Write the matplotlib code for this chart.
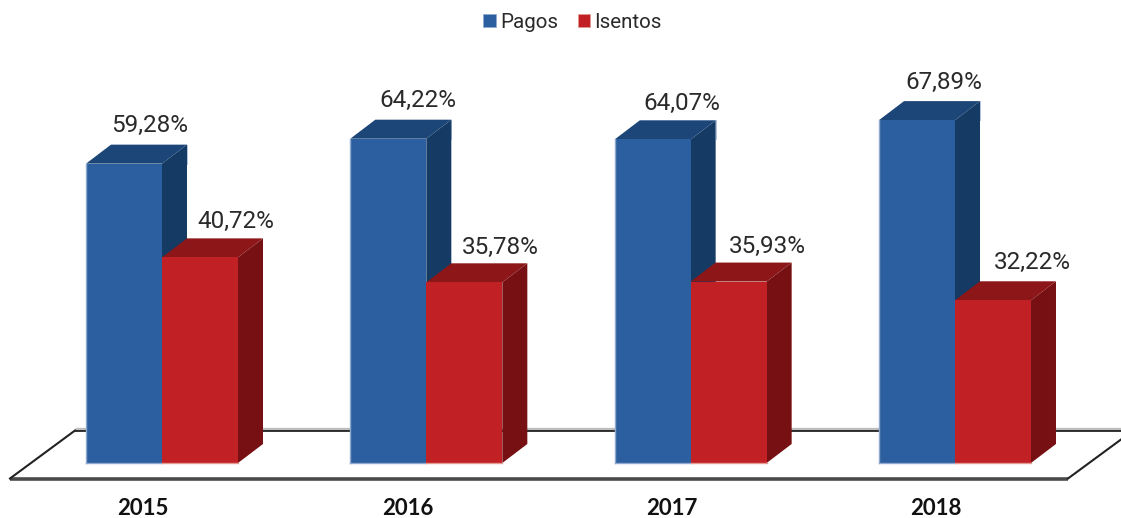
import matplotlib
matplotlib.use("Agg")
import matplotlib.pyplot as plt
from matplotlib.patches import Polygon, Patch

years = ["2015", "2016", "2017", "2018"]
pagos = [59.28, 64.22, 64.07, 67.89]
isentos = [40.72, 35.78, 35.93, 32.22]
series_names = ["Pagos", "Isentos"]

# label nudges in pixels (style only)
pagos_dx = [26, 30, 29, 27]
pagos_dy = [38, 38, 36, 38]
isentos_dx = [36, 36, 39, 39]
isentos_dy = [36, 35, 35, 38]

W, H = 1121, 518
PX_PER_GROUP = 264.33
PX_PER_PCT = 5.05
X0 = 162.0
BASE = 463.0
AX_BOTTOM = 481.0
BAR_W = 76 / PX_PER_GROUP
DX = 25 / PX_PER_GROUP
DY = 19 / PX_PER_PCT

BLUE = ("#2C5F9F", "#1C4678", "#153A63", "#8FA8CF")
RED = ("#C12025", "#8C1618", "#761012", "#E39A90")
FONT = ["Lato", "DejaVu Sans"]
THIN = ["Roboto", "DejaVu Sans"]

fig = plt.figure(figsize=(W / 100, H / 100), dpi=100)
ax = fig.add_axes([0, (H - AX_BOTTOM) / H, 1, AX_BOTTOM / H])
ax.set_xlim(-X0 / PX_PER_GROUP, (W - X0) / PX_PER_GROUP)
ax.set_ylim(-(AX_BOTTOM - BASE) / PX_PER_PCT, BASE / PX_PER_PCT)
for s in ax.spines.values():
    s.set_visible(False)
ax.set_yticks([])


def px(x):
    return (x - X0) / PX_PER_GROUP


def py(y):
    return (BASE - y) / PX_PER_PCT


# floor outline
for lw, col, off in ((3.4, "#BDBDBD", -1.2), (1.7, "#111111", 0)):
    ax.plot([px(75), px(1121)], [py(430.5 + off)] * 2, color=col, lw=lw * 0.7, zorder=1,
            solid_capstyle="butt")
ax.plot([px(10), px(1068)], [py(478.5)] * 2, color="#4A4A4A", lw=2.6, zorder=1,
        solid_capstyle="butt")
ax.plot([px(10), px(75)], [py(478.5), py(430.5)], color="#222222", lw=1.5, zorder=1)
ax.plot([px(1068), px(1121)], [py(478.5), py(439.5)], color="#222222", lw=1.5, zorder=1)


def bar3d(x, v, cols, z, left_edge):
    front, top, side, edge = cols
    left, right = x, x + BAR_W
    ax.add_patch(Polygon([(right, 0), (right + DX, DY), (right + DX, v + DY), (right, v)],
                         fc=side, ec="none", zorder=z))
    ax.add_patch(Polygon([(left, v), (left + DX, v + DY), (right + DX, v + DY), (right, v)],
                         fc=top, ec="none", zorder=z))
    ax.bar(x, v, BAR_W, align="edge", color=front, zorder=z + 0.1)
    ax.plot([left, right], [0, 0], color=edge, lw=1.0, zorder=z + 0.2)
    if left_edge:
        ax.plot([left, left], [0, v], color=edge, lw=1.0, zorder=z + 0.2)
        ax.plot([left + DX, right + DX, right + DX], [v + DY, v + DY, v], color=edge,
                lw=0.6, zorder=z - 0.1, alpha=0.8)


for i, (p, q) in enumerate(zip(pagos, isentos)):
    bar3d(i - BAR_W, p, BLUE, 2 + i, True)
    bar3d(i, q, RED, 2.5 + i, False)
    for xc, v, ox, oy in ((i - BAR_W / 2, p, pagos_dx[i], pagos_dy[i]),
                          (i + BAR_W / 2, q, isentos_dx[i], isentos_dy[i])):
        ax.annotate(f"{v:.2f}%".replace(".", ","), (xc, v), xytext=(ox * 0.72, oy * 0.72),
                    textcoords="offset points", ha="center", va="center",
                    fontsize=17.5, color="#2A2A2A", family=THIN, zorder=10)

ax.set_xticks([i - 19 / PX_PER_GROUP for i in range(len(years))])
ax.set_xticklabels(years, fontsize=16, fontweight="bold", family=FONT, color="#111111")
ax.tick_params(axis="x", length=0, pad=12)

handles = [Patch(fc=BLUE[0], ec=BLUE[3], lw=0.5), Patch(fc=RED[0], ec=RED[3], lw=0.5)]
leg = fig.legend(handles, series_names, loc="center", bbox_to_anchor=(572.5 / W, 1 - 22.5 / H),
                 ncol=2, frameon=False, handlelength=0.62, handleheight=0.62,
                 handletextpad=0.2, columnspacing=0.95,
                 prop={"family": THIN, "size": 14.8})
for t in leg.get_texts():
    t.set_color("#2A2A2A")

fig.savefig("out.png", dpi=100, facecolor="white")
